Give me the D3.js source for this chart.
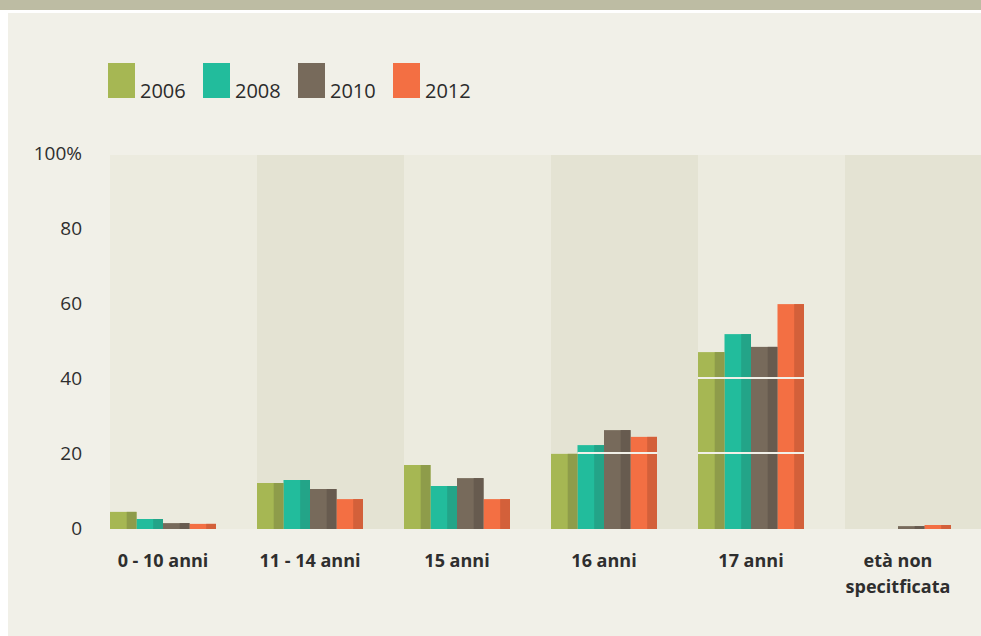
<!DOCTYPE html>
<html>
<head>
<meta charset="utf-8">
<script src="https://cdn.jsdelivr.net/npm/d3@7"></script>
<style>
  body { margin: 0; background: #ffffff; }
  svg { display: block; }
</style>
</head>
<body>
<script>
var categories = [["0 - 10 anni"], ["11 - 14 anni"], ["15 anni"], ["16 anni"], ["17 anni"], ["età non", "specitficata"]],
    years = ["2006", "2008", "2010", "2012"],
    v2006 = [4.3, 12.0, 16.8, 19.8, 46.9, 0],
    v2008 = [2.4, 12.8, 11.2, 22.1, 51.7, 0],
    v2010 = [1.3, 10.4, 13.3, 26.1, 48.3, 0.5],
    v2012 = [1.1, 7.7, 7.7, 24.3, 59.7, 0.8],
    yTicks = [0, 20, 40, 60, 80, 100];

var series = [v2006, v2008, v2010, v2012],
    light = ["#a6b753", "#22bc9c", "#776a5b", "#f36f43"],
    dark = ["#8e9c4a", "#23a488", "#675b4f", "#d3603a"];

var w = 981,
    h = 636;

var svg = d3.select("body")
    .append("svg")
    .attr("width", w)
    .attr("height", h);

// top band + panel
svg.append("rect").attr("x", 0).attr("y", 0).attr("width", w).attr("height", 10).attr("fill", "#bdbca3");
svg.append("rect").attr("x", 8).attr("y", 13).attr("width", w - 8).attr("height", h - 13).attr("fill", "#f1f0e8");

var x = d3.scaleBand()
    .domain(d3.range(categories.length))
    .range([110, 110 + 147 * 6]);

var xIn = d3.scaleBand()
    .domain(d3.range(years.length))
    .range([0, 106]);

var y = d3.scaleLinear()
    .domain([0, 100])
    .range([528, 153]);

// alternating column backgrounds
svg.selectAll("rect.col")
    .data(categories)
    .enter()
    .append("rect")
    .attr("class", "col")
    .attr("x", function (d, i) { return x(i); })
    .attr("y", y(100) + 2)
    .attr("width", function (d, i) { return Math.min(x.bandwidth(), w - x(i)); })
    .attr("height", y(0) - y(100) - 1)
    .attr("fill", function (d, i) { return i % 2 ? "#e4e3d3" : "#ecebdf"; });

// bars
var bars = [];
series.forEach(function (s, si) {
    s.forEach(function (v, ci) {
        bars.push({ s: si, c: ci, v: v });
    });
});
bars = bars.filter(function (d) { return d.v > 0; });

var bw = xIn.bandwidth();
var g = svg.append("g");
g.selectAll("rect.l")
    .data(bars)
    .enter()
    .append("rect")
    .attr("x", function (d) { return x(d.c) + xIn(d.s); })
    .attr("y", function (d) { return y(d.v); })
    .attr("width", bw)
    .attr("height", function (d) { return y(0) - y(d.v) + 1; })
    .attr("fill", function (d) { return light[d.s]; });
g.selectAll("rect.d")
    .data(bars)
    .enter()
    .append("rect")
    .attr("x", function (d) { return x(d.c) + xIn(d.s) + bw * 0.63; })
    .attr("y", function (d) { return y(d.v); })
    .attr("width", bw * 0.37)
    .attr("height", function (d) { return y(0) - y(d.v) + 1; })
    .attr("fill", function (d) { return dark[d.s]; });

// gridlines visible only across bars
var clip = svg.append("clipPath").attr("id", "barclip");
clip.selectAll("rect")
    .data(bars)
    .enter()
    .append("rect")
    .attr("x", function (d) { return x(d.c) + xIn(d.s); })
    .attr("y", function (d) { return y(d.v); })
    .attr("width", bw + 0.5)
    .attr("height", function (d) { return y(0) - y(d.v); });

svg.append("g")
    .attr("clip-path", "url(#barclip)")
    .selectAll("line")
    .data(yTicks.filter(function (t) { return t > 0; }))
    .enter()
    .append("line")
    .attr("x1", x(0))
    .attr("x2", w)
    .attr("y1", function (d) { return y(d); })
    .attr("y2", function (d) { return y(d); })
    .attr("stroke", "#f1f0e8")
    .attr("stroke-width", 2);

// y axis labels
var yAxis = d3.axisLeft(y)
    .tickValues(yTicks)
    .tickSize(0)
    .tickPadding(0)
    .tickFormat(function (d) { return d === 100 ? "100%" : d; });
var ya = svg.append("g")
    .attr("transform", "translate(82,0)")
    .call(yAxis);
ya.select(".domain").remove();
ya.selectAll("text")
    .attr("font-family", "'Open Sans', sans-serif")
    .attr("font-size", "19px")
    .attr("fill", "#2e2e2e");

// x labels
var xl = svg.selectAll("text.xl")
    .data(categories)
    .enter()
    .append("text")
    .attr("class", "xl")
    .attr("x", function (d, i) { return x(i) + 53; })
    .attr("y", 567)
    .attr("text-anchor", "middle")
    .attr("font-family", "'Open Sans', sans-serif")
    .attr("font-weight", "bold")
    .attr("font-size", "18px")
    .attr("fill", "#2e2e2e");
xl.selectAll("tspan")
    .data(function (d) { return d; })
    .enter()
    .append("tspan")
    .attr("x", function () { return d3.select(this.parentNode).attr("x"); })
    .attr("dy", function (d, i) { return i ? 26 : 0; })
    .text(function (d) { return d; });

// legend
var leg = svg.selectAll("g.leg")
    .data(years)
    .enter()
    .append("g")
    .attr("class", "leg")
    .attr("transform", function (d, i) { return "translate(" + (108 + i * 95) + ",63)"; });
leg.append("rect")
    .attr("width", 27)
    .attr("height", 35)
    .attr("fill", function (d, i) { return light[i]; });
leg.append("text")
    .attr("x", 32)
    .attr("y", 35)
    .attr("font-family", "'Open Sans', sans-serif")
    .attr("font-size", "20px")
    .attr("fill", "#2b2b2b")
    .text(function (d) { return d; });
</script>
</body>
</html>
